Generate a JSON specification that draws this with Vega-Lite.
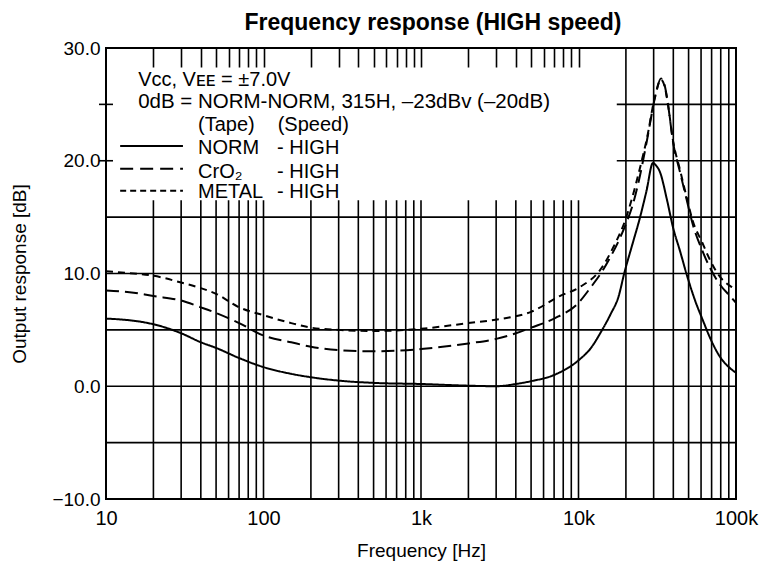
{
  "$schema": "https://vega.github.io/schema/vega-lite/v6.json",
  "width": 630,
  "height": 451,
  "autosize": {"type": "none"},
  "padding": {"left": 106, "top": 48, "right": 28, "bottom": 69},
  "background": "white",
  "config": {
    "view": {"stroke": null},
    "font": "Liberation Sans",
    "text": {"font": "Liberation Sans"}
  },
  "title": {
    "text": "Frequency response (HIGH speed)",
    "fontSize": 23,
    "fontWeight": "bold",
    "font": "Liberation Sans",
    "color": "black",
    "anchor": "middle",
    "dx": 12,
    "offset": 4
  },
  "resolve": {"axis": {"x": "independent"}},
  "datasets": {
    "gridF": [
      {"f": 20}, {"f": 30}, {"f": 40}, {"f": 50}, {"f": 60}, {"f": 70}, {"f": 80}, {"f": 90},
      {"f": 100}, {"f": 200}, {"f": 300}, {"f": 400}, {"f": 500}, {"f": 600}, {"f": 700}, {"f": 800}, {"f": 900},
      {"f": 1000}, {"f": 2000}, {"f": 3000}, {"f": 4000}, {"f": 5000}, {"f": 6000}, {"f": 7000}, {"f": 8000}, {"f": 9000},
      {"f": 10000}, {"f": 20000}, {"f": 30000}, {"f": 40000}, {"f": 50000}, {"f": 60000}, {"f": 70000}, {"f": 80000}, {"f": 90000}
    ],
    "gridY": [{"v": -5}, {"v": 0}, {"v": 5}, {"v": 10}, {"v": 15}],
    "gridYTop": [{"v": 20}, {"v": 25}],
    "curves": [
      {"s": "NORM", "f": 10, "db": 6.0}, {"s": "NORM", "f": 13, "db": 5.9}, {"s": "NORM", "f": 17, "db": 5.7},
      {"s": "NORM", "f": 20, "db": 5.5}, {"s": "NORM", "f": 30, "db": 4.7}, {"s": "NORM", "f": 40, "db": 3.9},
      {"s": "NORM", "f": 50, "db": 3.4}, {"s": "NORM", "f": 70, "db": 2.5}, {"s": "NORM", "f": 100, "db": 1.7},
      {"s": "NORM", "f": 150, "db": 1.1}, {"s": "NORM", "f": 200, "db": 0.8}, {"s": "NORM", "f": 300, "db": 0.5},
      {"s": "NORM", "f": 500, "db": 0.3}, {"s": "NORM", "f": 1000, "db": 0.2}, {"s": "NORM", "f": 2000, "db": 0.05},
      {"s": "NORM", "f": 3000, "db": 0.0}, {"s": "NORM", "f": 4000, "db": 0.2}, {"s": "NORM", "f": 5000, "db": 0.45},
      {"s": "NORM", "f": 7000, "db": 1.0}, {"s": "NORM", "f": 10000, "db": 2.3}, {"s": "NORM", "f": 12000, "db": 3.4},
      {"s": "NORM", "f": 14000, "db": 4.9}, {"s": "NORM", "f": 16000, "db": 6.4}, {"s": "NORM", "f": 18000, "db": 8.0},
      {"s": "NORM", "f": 19500, "db": 10.0}, {"s": "NORM", "f": 22000, "db": 12.6}, {"s": "NORM", "f": 24500, "db": 14.9},
      {"s": "NORM", "f": 27000, "db": 17.3}, {"s": "NORM", "f": 29700, "db": 19.8}, {"s": "NORM", "f": 31000, "db": 19.6},
      {"s": "NORM", "f": 32900, "db": 19.0}, {"s": "NORM", "f": 36500, "db": 16.5}, {"s": "NORM", "f": 39800, "db": 14.1},
      {"s": "NORM", "f": 44100, "db": 12.0}, {"s": "NORM", "f": 48900, "db": 9.8}, {"s": "NORM", "f": 55000, "db": 7.6},
      {"s": "NORM", "f": 61800, "db": 5.8}, {"s": "NORM", "f": 68400, "db": 4.3}, {"s": "NORM", "f": 79200, "db": 2.6},
      {"s": "NORM", "f": 90000, "db": 1.7}, {"s": "NORM", "f": 100000, "db": 1.2},

      {"s": "CrO2", "f": 10, "db": 8.5}, {"s": "CrO2", "f": 15, "db": 8.3}, {"s": "CrO2", "f": 20, "db": 8.0},
      {"s": "CrO2", "f": 30, "db": 7.6}, {"s": "CrO2", "f": 40, "db": 7.0}, {"s": "CrO2", "f": 50, "db": 6.5},
      {"s": "CrO2", "f": 70, "db": 5.6}, {"s": "CrO2", "f": 100, "db": 4.5}, {"s": "CrO2", "f": 150, "db": 3.9},
      {"s": "CrO2", "f": 200, "db": 3.5}, {"s": "CrO2", "f": 300, "db": 3.2}, {"s": "CrO2", "f": 500, "db": 3.1},
      {"s": "CrO2", "f": 700, "db": 3.15}, {"s": "CrO2", "f": 1000, "db": 3.3}, {"s": "CrO2", "f": 2000, "db": 3.8},
      {"s": "CrO2", "f": 3000, "db": 4.2}, {"s": "CrO2", "f": 4000, "db": 4.7}, {"s": "CrO2", "f": 5000, "db": 5.2},
      {"s": "CrO2", "f": 7000, "db": 6.0}, {"s": "CrO2", "f": 10000, "db": 7.4}, {"s": "CrO2", "f": 12000, "db": 8.8},
      {"s": "CrO2", "f": 14000, "db": 10.1}, {"s": "CrO2", "f": 16000, "db": 11.5}, {"s": "CrO2", "f": 18000, "db": 12.9},
      {"s": "CrO2", "f": 20000, "db": 14.4}, {"s": "CrO2", "f": 22000, "db": 16.0}, {"s": "CrO2", "f": 24500, "db": 18.6},
      {"s": "CrO2", "f": 27200, "db": 21.8}, {"s": "CrO2", "f": 30600, "db": 25.6}, {"s": "CrO2", "f": 33400, "db": 27.3},
      {"s": "CrO2", "f": 35500, "db": 26.5}, {"s": "CrO2", "f": 37000, "db": 25.0}, {"s": "CrO2", "f": 39800, "db": 21.7},
      {"s": "CrO2", "f": 44100, "db": 19.0}, {"s": "CrO2", "f": 48900, "db": 16.4}, {"s": "CrO2", "f": 53300, "db": 14.3},
      {"s": "CrO2", "f": 60800, "db": 12.1}, {"s": "CrO2", "f": 68400, "db": 10.5}, {"s": "CrO2", "f": 79200, "db": 9.0},
      {"s": "CrO2", "f": 91600, "db": 8.0}, {"s": "CrO2", "f": 100000, "db": 7.4},

      {"s": "METAL", "f": 10, "db": 10.2}, {"s": "METAL", "f": 15, "db": 10.0}, {"s": "METAL", "f": 20, "db": 9.8},
      {"s": "METAL", "f": 30, "db": 9.2}, {"s": "METAL", "f": 40, "db": 8.7}, {"s": "METAL", "f": 50, "db": 8.2},
      {"s": "METAL", "f": 70, "db": 7.0}, {"s": "METAL", "f": 100, "db": 6.3}, {"s": "METAL", "f": 150, "db": 5.6},
      {"s": "METAL", "f": 200, "db": 5.2}, {"s": "METAL", "f": 300, "db": 5.0}, {"s": "METAL", "f": 500, "db": 4.9},
      {"s": "METAL", "f": 1000, "db": 5.1}, {"s": "METAL", "f": 2000, "db": 5.6}, {"s": "METAL", "f": 3300, "db": 6.0},
      {"s": "METAL", "f": 5000, "db": 6.6}, {"s": "METAL", "f": 7600, "db": 8.0}, {"s": "METAL", "f": 10200, "db": 8.8},
      {"s": "METAL", "f": 13700, "db": 10.3}, {"s": "METAL", "f": 16600, "db": 12.3}, {"s": "METAL", "f": 20000, "db": 14.9},
      {"s": "METAL", "f": 22000, "db": 16.8}, {"s": "METAL", "f": 24500, "db": 19.3}, {"s": "METAL", "f": 27200, "db": 22.0},
      {"s": "METAL", "f": 30600, "db": 25.7}, {"s": "METAL", "f": 33400, "db": 27.2}, {"s": "METAL", "f": 35500, "db": 26.4},
      {"s": "METAL", "f": 37000, "db": 25.0}, {"s": "METAL", "f": 39800, "db": 21.8}, {"s": "METAL", "f": 44100, "db": 19.2},
      {"s": "METAL", "f": 48900, "db": 16.6}, {"s": "METAL", "f": 53300, "db": 14.6}, {"s": "METAL", "f": 60800, "db": 12.8},
      {"s": "METAL", "f": 68400, "db": 11.2}, {"s": "METAL", "f": 79200, "db": 9.7}, {"s": "METAL", "f": 91600, "db": 8.9},
      {"s": "METAL", "f": 100000, "db": 8.6}
    ],
    "one": [{"k": 1}]
  },
  "layer": [
    {
      "data": {"name": "gridF"},
      "transform": [{"filter": "datum.f > 15000"}],
      "mark": {"type": "rule", "color": "black", "strokeWidth": 1.6},
      "encoding": {
        "x": {
          "field": "f", "type": "quantitative",
          "scale": {"type": "log", "domain": [10, 100000], "nice": false},
          "axis": {
            "values": [10, 100, 1000, 10000, 100000],
            "labelExpr": "datum.value >= 1000 ? format(datum.value / 1000, 'd') + 'k' : format(datum.value, 'd')",
            "grid": false, "ticks": false, "tickSize": 0, "domain": false,
            "labelFontSize": 20, "labelColor": "black", "labelPadding": 9, "labelFont": "Liberation Sans",
            "labelFlush": false, "labelOverlap": false,
            "title": "Frequency [Hz]", "titleFontSize": 19, "titleFontWeight": "normal", "titleColor": "black",
            "titleFont": "Liberation Sans", "titlePadding": 13
          }
        },
        "y": {
          "datum": -10, "type": "quantitative",
          "scale": {"domain": [-10, 30], "nice": false, "zero": false},
          "axis": {
            "values": [-10, 0, 10, 20, 30],
            "format": ".1f",
            "grid": false, "ticks": false, "tickSize": 0, "domain": false,
            "labelFontSize": 19, "labelColor": "black", "labelPadding": 6, "labelFont": "Liberation Sans",
            "labelFlush": false, "labelOverlap": false,
            "title": "Output response [dB]", "titleFontSize": 19, "titleFontWeight": "normal", "titleColor": "black",
            "titleFont": "Liberation Sans", "titlePadding": 22
          }
        },
        "y2": {"datum": 30}
      }
    },
    {
      "data": {"name": "gridF"},
      "transform": [{"filter": "datum.f < 15000"}],
      "mark": {"type": "rule", "color": "black", "strokeWidth": 1.6},
      "encoding": {
        "x": {
          "field": "f", "type": "quantitative",
          "axis": {
            "orient": "top",
            "values": [20, 30, 40, 50, 60, 70, 80, 90, 100, 200, 300, 400, 500, 600, 700, 800, 900, 1000, 2000, 3000, 4000, 5000, 6000, 7000, 8000, 9000, 10000],
            "labels": false, "domain": false, "grid": false, "title": null,
            "ticks": true, "tickSize": 19, "offset": -19, "tickWidth": 1.6, "tickColor": "black", "tickOpacity": 1, "zindex": 1
          }
        },
        "y": {"datum": -10, "type": "quantitative"},
        "y2": {"datum": 16.5}
      }
    },
    {
      "data": {"name": "gridY"},
      "mark": {"type": "rule", "color": "black", "strokeWidth": 1.6},
      "encoding": {
        "x": {"datum": 10, "type": "quantitative", "axis": null},
        "x2": {"datum": 100000},
        "y": {"field": "v", "type": "quantitative"}
      }
    },
    {
      "data": {"name": "gridYTop"},
      "mark": {"type": "rule", "color": "black", "strokeWidth": 1.6},
      "encoding": {
        "x": {"datum": 17500, "type": "quantitative", "axis": null},
        "x2": {"datum": 100000},
        "y": {"field": "v", "type": "quantitative"}
      }
    },
    {
      "data": {"name": "gridYTop"},
      "mark": {"type": "tick", "orient": "horizontal", "color": "black", "thickness": 1.6, "size": 14, "opacity": 1},
      "encoding": {
        "x": {"datum": 10, "type": "quantitative", "axis": null},
        "y": {"field": "v", "type": "quantitative"}
      }
    },
    {
      "data": {"name": "curves"},
      "mark": {"type": "line", "color": "black", "strokeWidth": 2, "interpolate": "monotone"},
      "encoding": {
        "x": {"field": "f", "type": "quantitative", "axis": null},
        "y": {"field": "db", "type": "quantitative"},
        "detail": {"field": "s"},
        "strokeDash": {
          "field": "s", "type": "nominal",
          "scale": {"domain": ["NORM", "CrO2", "METAL"], "range": [[1, 0], [13, 6], [7, 5]]},
          "legend": null
        }
      }
    },
    {
      "data": {"name": "one"},
      "mark": {"type": "rule", "color": "black", "strokeWidth": 2},
      "encoding": {"x": {"datum": 12.3, "type": "quantitative", "axis": null}, "x2": {"datum": 30.8}, "y": {"datum": 21.3, "type": "quantitative"}}
    },
    {
      "data": {"name": "one"},
      "mark": {"type": "rule", "color": "black", "strokeWidth": 2, "strokeDash": [13, 7]},
      "encoding": {"x": {"datum": 12.3, "type": "quantitative", "axis": null}, "x2": {"datum": 30.8}, "y": {"datum": 19.3, "type": "quantitative"}}
    },
    {
      "data": {"name": "one"},
      "mark": {"type": "rule", "color": "black", "strokeWidth": 2, "strokeDash": [6, 4]},
      "encoding": {"x": {"datum": 12.3, "type": "quantitative", "axis": null}, "x2": {"datum": 30.8}, "y": {"datum": 17.35, "type": "quantitative"}}
    },
    {
      "data": {"name": "one"},
      "mark": {"type": "text", "text": "Vᴄᴄ, Vᴇᴇ = ±7.0V", "align": "left", "baseline": "alphabetic", "fontSize": 20, "color": "black"},
      "encoding": {"x": {"datum": 16, "type": "quantitative", "axis": null}, "y": {"datum": 26.6, "type": "quantitative"}}
    },
    {
      "data": {"name": "one"},
      "mark": {"type": "text", "text": "0dB = NORM-NORM, 315H, –23dBv (–20dB)", "align": "left", "baseline": "alphabetic", "fontSize": 20.5, "color": "black"},
      "encoding": {"x": {"datum": 16, "type": "quantitative", "axis": null}, "y": {"datum": 24.7, "type": "quantitative"}}
    },
    {
      "data": {"name": "one"},
      "mark": {"type": "text", "text": "(Tape)", "align": "left", "baseline": "alphabetic", "fontSize": 20, "color": "black"},
      "encoding": {"x": {"datum": 38.4, "type": "quantitative", "axis": null}, "y": {"datum": 22.65, "type": "quantitative"}}
    },
    {
      "data": {"name": "one"},
      "mark": {"type": "text", "text": "(Speed)", "align": "left", "baseline": "alphabetic", "fontSize": 20, "color": "black"},
      "encoding": {"x": {"datum": 123, "type": "quantitative", "axis": null}, "y": {"datum": 22.65, "type": "quantitative"}}
    },
    {
      "data": {"name": "one"},
      "mark": {"type": "text", "text": "NORM", "align": "left", "baseline": "alphabetic", "fontSize": 20, "color": "black"},
      "encoding": {"x": {"datum": 38.4, "type": "quantitative", "axis": null}, "y": {"datum": 20.6, "type": "quantitative"}}
    },
    {
      "data": {"name": "one"},
      "mark": {"type": "text", "text": "- HIGH", "align": "left", "baseline": "alphabetic", "fontSize": 20, "color": "black"},
      "encoding": {"x": {"datum": 122, "type": "quantitative", "axis": null}, "y": {"datum": 20.6, "type": "quantitative"}}
    },
    {
      "data": {"name": "one"},
      "mark": {"type": "text", "text": "CrO₂", "align": "left", "baseline": "alphabetic", "fontSize": 20, "color": "black"},
      "encoding": {"x": {"datum": 38.4, "type": "quantitative", "axis": null}, "y": {"datum": 18.5, "type": "quantitative"}}
    },
    {
      "data": {"name": "one"},
      "mark": {"type": "text", "text": "- HIGH", "align": "left", "baseline": "alphabetic", "fontSize": 20, "color": "black"},
      "encoding": {"x": {"datum": 122, "type": "quantitative", "axis": null}, "y": {"datum": 18.5, "type": "quantitative"}}
    },
    {
      "data": {"name": "one"},
      "mark": {"type": "text", "text": "METAL", "align": "left", "baseline": "alphabetic", "fontSize": 20, "color": "black"},
      "encoding": {"x": {"datum": 38.4, "type": "quantitative", "axis": null}, "y": {"datum": 16.7, "type": "quantitative"}}
    },
    {
      "data": {"name": "one"},
      "mark": {"type": "text", "text": "- HIGH", "align": "left", "baseline": "alphabetic", "fontSize": 20, "color": "black"},
      "encoding": {"x": {"datum": 122, "type": "quantitative", "axis": null}, "y": {"datum": 16.7, "type": "quantitative"}}
    },
    {
      "data": {"name": "one"},
      "mark": {"type": "rect", "filled": false, "stroke": "black", "strokeWidth": 2},
      "encoding": {
        "x": {"datum": 10, "type": "quantitative", "axis": null},
        "x2": {"datum": 100000},
        "y": {"datum": -10, "type": "quantitative"},
        "y2": {"datum": 30}
      }
    }
  ]
}
